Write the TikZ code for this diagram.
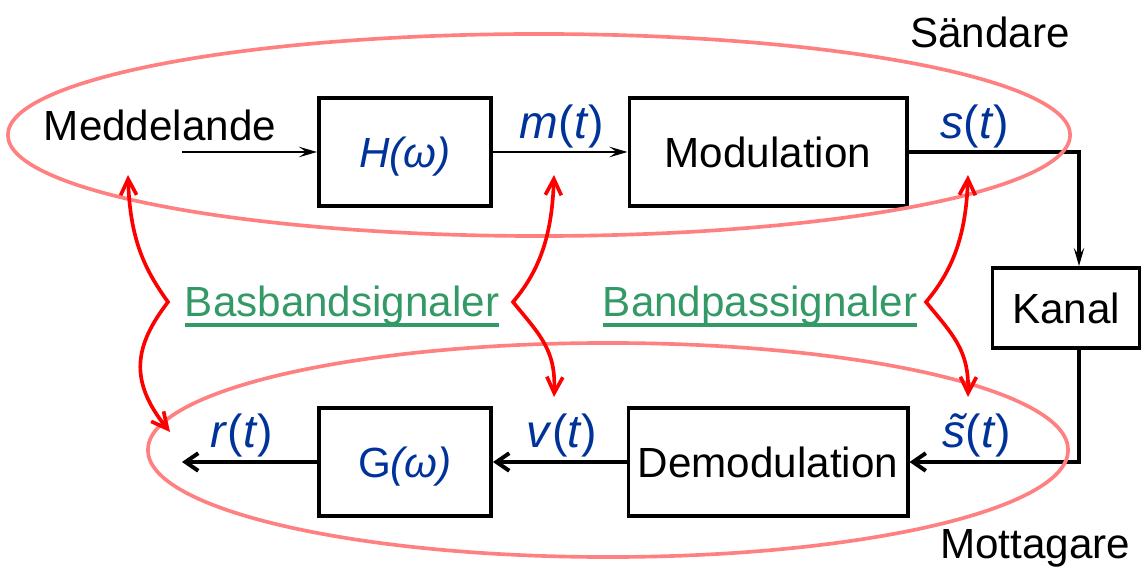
\documentclass[tikz,border=0pt]{standalone}
\usepackage{fontspec}
\setmainfont{Liberation Sans}
\usepackage{tikz}
\usetikzlibrary{arrows.meta,calc,positioning}

\definecolor{sigblue}{RGB}{0,51,153}
\definecolor{ringred}{RGB}{255,128,128}
\definecolor{bandgreen}{RGB}{51,153,102}

\tikzset{
  block/.style={draw, line width=2.8pt, text height=21.5pt, text depth=0pt, inner sep=0pt},
  sig/.style={text=sigblue, anchor=base, inner sep=0pt, font=\fontsize{33}{38}\selectfont},
  lbl/.style={anchor=base, inner sep=0pt},
  band/.style={text=bandgreen, anchor=base, inner sep=0pt},
  bandline/.style={draw=bandgreen, line width=2.8pt},
  thinflow/.style={line width=1.9pt, -{Stealth[length=4.5mm,width=2.6mm,inset=1.8mm]}},
  thickflow/.style={line width=2.8pt, -{Straight Barb[length=3.2mm,width=4.4mm]}},
  ring/.style={draw=ringred, line width=2.6pt},
  brace/.style={red, line width=2.6pt, {Straight Barb[length=4mm,width=4mm]}-{Straight Barb[length=4mm,width=4mm]}}
}

\begin{document}
\begin{tikzpicture}[x=0.025cm, y=-0.025cm, font=\fontsize{30}{36}\selectfont]
\useasboundingbox (0,0) rectangle (1141,569);

% sandare
\node[lbl] (msg) at (160,141) {Meddelande};
\node[block, minimum width=4.3cm, minimum height=2.7cm] (filterH) at (405,152) {\textcolor{sigblue}{\textit{H(ω)}}};
\node[block, minimum width=6.925cm, minimum height=2.7cm] (modbox) at (768,152) {Modulation};
\node[lbl] (sender) at (990,48) {Sändare};

% kanal
\node[block, minimum width=3.675cm, minimum height=2cm] (kanal) at (1066,308) {Kanal};

% mottagare
\node[block, minimum width=6.975cm, minimum height=2.7cm] (demod) at (768,462) {Demodulation};
\node[block, minimum width=4.3cm, minimum height=2.7cm] (filterG) at (405,462) {\textcolor{sigblue}{G\textit{(ω)}}};
\node[lbl] (receiver) at (1035,558) {Mottagare};

\coordinate (msgout) at (182,152);
\coordinate (corner) at (1079,152);
\coordinate (rout) at (182,462);

\draw[thinflow] (msgout) -- (filterH.west);
\draw[thinflow] (filterH) -- (modbox);
\draw[thinflow, line width=2.8pt] (modbox.east) -- (corner) -- (corner |- kanal.north);
\draw[thickflow] (kanal.south -| corner) |- (demod.east);
\draw[thickflow] (demod) -- (filterG);
\draw[thickflow] (filterG) -- (rout);

% signaler
\node[sig] (mlab) at (562,139) {\textit{m}(\textit{t})};
\node[sig] (slab) at (975,139) {\textit{s}(\textit{t})};
\node[sig] (rlab) at (242,447) {\textit{r}(\textit{t})};
\node[sig] (vlab) at (562,447) {\textit{v}(\textit{t})};
\node[sig] (stlab) at (977,447) {\textit{\~{s}}(\textit{t})};

% ringar
\draw[ring] (539,135) ellipse [x radius=13.275cm, y radius=2.525cm];
\draw[ring] (608,450) ellipse [x radius=11.5cm, y radius=2.675cm];

% gruppnamn
\node[band] (baseband) at (342,317) {Basbandsignaler};
\draw[bandline] ([yshift=1pt]baseband.south west) -- ([yshift=1pt]baseband.south east);
\node[band] (passband) at (760,317) {Bandpassignaler};
\draw[bandline] ([yshift=1pt]passband.south west) -- ([yshift=1pt]passband.south east);

% klammer
\coordinate (b1) at (168,302);
\coordinate (b1up) at (128,175);
\coordinate (b1dn) at (170,432);
\coordinate (b2) at (513,302);
\coordinate (b2up) at (554,175);
\coordinate (b2dn) at (554,397);
\coordinate (b3) at (926,302);
\coordinate (b3up) at (968,175);
\coordinate (b3dn) at (968,397);

\draw[brace] (b1up) .. controls (130,240) and (145,270) .. (b1) .. controls (135,345) and (128,380) .. (b1dn);
\draw[brace] (b2up) .. controls (552,235) and (540,270) .. (b2) .. controls (540,335) and (556,350) .. (b2dn);
\draw[brace] (b3up) .. controls (966,235) and (953,270) .. (b3) .. controls (953,335) and (969,350) .. (b3dn);

\end{tikzpicture}
\end{document}
